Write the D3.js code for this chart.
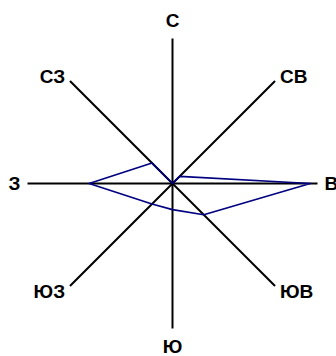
<!DOCTYPE html>
<html>
<head>
<meta charset="utf-8">
<script src="https://cdn.jsdelivr.net/npm/d3@7"></script>
<style>
	body { margin: 0; background: #fff; }
	svg text { font-family: "Liberation Sans", Arial, sans-serif; font-weight: bold; font-size: 19px; }
</style>
</head>
<body>
<svg id="svg"></svg>
<script>

// directions, clockwise from north
const directions = ["С", "СВ", "В", "ЮВ", "Ю", "ЮЗ", "З", "СЗ"];
const values = [0, 1.4, 19, 6.1, 3.6, 4, 11.5, 4];
const maxValue = 20;

let width = 336,
	height = 356,
	cx = 172.5,
	cy = 183.5,
	R = 145;

const svg = d3.select("svg#svg")
	.attr("width", width)
	.attr("height", height);

const angle = d3.scalePoint()
	.domain(directions)
	.range([0, 2 * Math.PI * 7 / 8]);

const r = d3.scaleLinear()
	.domain([0, maxValue])
	.range([0, R]);

const g = svg.append("g")
	.attr("transform", `translate(${cx},${cy})`);

// axes
g.selectAll("line.axis")
	.data(directions)
	.enter()
	.append("line")
	.attr("class", "axis")
	.attr("x1", 0)
	.attr("y1", 0)
	.attr("x2", d => R * Math.sin(angle(d)))
	.attr("y2", d => -R * Math.cos(angle(d)))
	.attr("stroke", "#000")
	.attr("stroke-width", 2);

// labels
g.selectAll("text.label")
	.data(directions)
	.enter()
	.append("text")
	.attr("class", "label")
	.attr("x", d => {
		let a = angle(d), off = (d == "С" || d == "Ю") ? 18 : 7;
		return (R + off) * Math.sin(a);
	})
	.attr("y", d => {
		let a = angle(d), off = (d == "С" || d == "Ю") ? 18 : 7;
		return -(R + off) * Math.cos(a);
	})
	.attr("dy", "0.36em")
	.attr("text-anchor", d => {
		let s = Math.sin(angle(d));
		return Math.abs(s) < 0.01 ? "middle" : (s > 0 ? "start" : "end");
	})
	.text(d => d);

// data polygon
const line = d3.lineRadial()
	.angle((d, i) => angle(directions[i]))
	.radius(d => r(d))
	.curve(d3.curveLinearClosed);

g.append("path")
	.datum(values)
	.attr("d", line)
	.attr("fill", "none")
	.attr("stroke", "#000080")
	.attr("stroke-width", 1.7)
	.attr("stroke-linejoin", "round");

</script>
</body>
</html>
